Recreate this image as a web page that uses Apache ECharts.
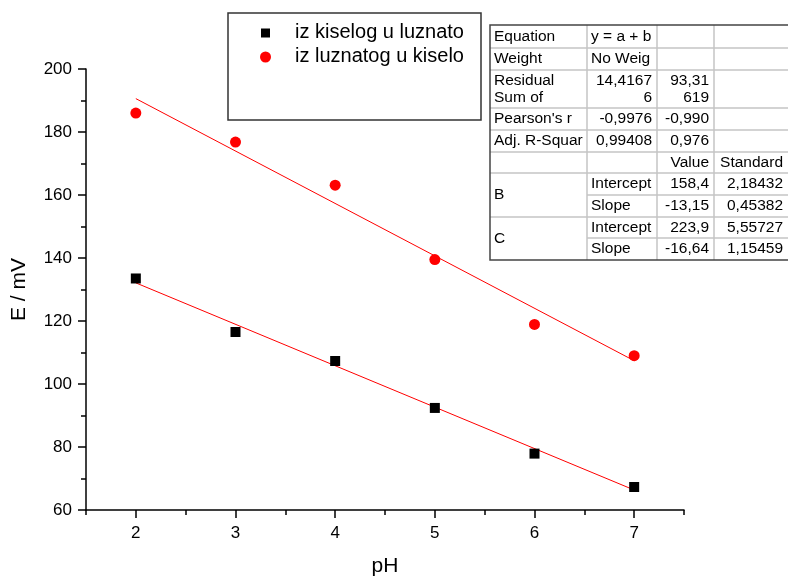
<!DOCTYPE html>
<html>
<head>
<meta charset="utf-8">
<script src="https://cdn.jsdelivr.net/npm/echarts@6/dist/echarts.min.js"></script>
<style>html,body{margin:0;padding:0;background:#fff}#c{width:788px;height:576px}</style>
</head>
<body>
<div id="c"></div>
<script>
// ---- data ----
var pH = [2, 3, 4, 5, 6, 7];
var seriesNames = ['iz kiselog u luznato', 'iz luznatog u kiselo'];
var eKiselo = [133.5, 116.5, 107.3, 92.4, 77.9, 67.3];
var eLuznato = [186.0, 176.8, 163.1, 139.5, 118.9, 109.0];
var fitX = [2, 7];
var fitB = [132.1, 66.35];
var fitC = [190.6, 107.4];
var xMajorTicks = [2, 3, 4, 5, 6, 7];
var tableRows = [
  ['Equation', 'y = a + b', '', ''],
  ['Weight', 'No Weig', '', ''],
  ['Residual\nSum of', '14,4167\n6', '93,31\n619', ''],
  ["Pearson's r", '-0,9976', '-0,990', ''],
  ['Adj. R-Squar', '0,99408', '0,976', ''],
  ['', '', 'Value', 'Standard'],
  ['B', 'Intercept', '158,4', '2,18432'],
  ['', 'Slope', '-13,15', '0,45382'],
  ['C', 'Intercept', '223,9', '5,55727'],
  ['', 'Slope', '-16,64', '1,15459']
];

function pairs(xs, ys) { return xs.map(function (x, i) { return [x, ys[i]]; }); }

var FONT = "'Liberation Sans', Arial, sans-serif";
var chart = echarts.init(document.getElementById('c'), null, {renderer: 'canvas'});

// ---- table graphic ----
var colX = [490, 587, 657, 714, 800];
var rowY = [25, 48, 70, 108, 130, 152, 173, 195, 217, 238, 260];
var g = [];
for (var r = 1; r < rowY.length - 1; r++) {
  var startX = (r === 7 || r === 9) ? colX[1] : colX[0];
  g.push({type: 'line', z: 50, shape: {x1: startX, y1: rowY[r], x2: 788, y2: rowY[r]}, style: {stroke: '#c4c4c4', lineWidth: 1.5}});
}
for (var c = 1; c < 4; c++) {
  g.push({type: 'line', z: 50, shape: {x1: colX[c], y1: rowY[0], x2: colX[c], y2: rowY[rowY.length - 1]}, style: {stroke: '#c4c4c4', lineWidth: 1.5}});
}
g.push({type: 'polyline', z: 51, shape: {points: [[788, rowY[0]], [colX[0], rowY[0]], [colX[0], rowY[10]], [788, rowY[10]]]}, style: {stroke: '#444', lineWidth: 1.5, fill: null}});
tableRows.forEach(function (row, ri) {
  var yTop = rowY[ri], yBot = rowY[ri + 1];
  row.forEach(function (txt, ci) {
    if (!txt) return;
    var isNum = /^[-\d,\n]+$/.test(txt) || ci >= 2;
    var yMid = (yTop + yBot) / 2;
    if (ci === 0 && (txt === 'B' || txt === 'C')) yMid = (yTop + rowY[ri + 2]) / 2;
    var x = isNum ? colX[ci + 1] - 5 : colX[ci] + 4;
    if (ci === 3) x = 783;
    g.push({type: 'text', z: 52, x: x, y: yMid,
      style: {text: txt, fill: '#000', font: '15.5px ' + FONT, align: isNum ? 'right' : 'left', verticalAlign: 'middle', lineHeight: 17}});
  });
});
// legend box
g.push({type: 'rect', z: 40, shape: {x: 228, y: 13, width: 253, height: 107}, style: {fill: '#fff', stroke: '#333', lineWidth: 1.5}});
g.push({type: 'rect', z: 41, shape: {x: 261, y: 28.5, width: 9, height: 9}, style: {fill: '#000'}});
g.push({type: 'circle', z: 41, shape: {cx: 265.5, cy: 57, r: 5.5}, style: {fill: '#ff0000'}});
g.push({type: 'text', z: 41, x: 295, y: 32, style: {text: seriesNames[0], fill: '#000', font: '20px ' + FONT, verticalAlign: 'middle'}});
g.push({type: 'text', z: 41, x: 295, y: 56, style: {text: seriesNames[1], fill: '#000', font: '20px ' + FONT, verticalAlign: 'middle'}});

var option = {
  backgroundColor: '#fff',
  animation: false,
  grid: {left: 86, top: 69, width: 598, height: 441, containLabel: false, outerBoundsMode: 'none'},
  xAxis: [{
    type: 'value', min: 1.5, max: 7.5, interval: 0.5,
    name: 'pH', nameLocation: 'middle', nameGap: 46,
    nameTextStyle: {fontSize: 21, fontFamily: FONT, color: '#000'},
    axisLine: {show: true, lineStyle: {color: '#000', width: 1.5}},
    axisTick: {show: true, length: 5, lineStyle: {color: '#000', width: 1.5}},
    axisLabel: {show: false},
    splitLine: {show: false}
  }, {
    type: 'value', min: 1.5, max: 7.5, position: 'bottom',
    axisLine: {show: false},
    axisTick: {show: true, length: 8, customValues: xMajorTicks, lineStyle: {color: '#000', width: 1.5}},
    axisLabel: {show: true, customValues: xMajorTicks, margin: 15, fontSize: 17, fontFamily: FONT, color: '#000'},
    splitLine: {show: false}
  }],
  yAxis: {
    type: 'value', min: 60, max: 200, interval: 20,
    name: 'E / mV', nameLocation: 'middle', nameGap: 56,
    nameTextStyle: {fontSize: 21, fontFamily: FONT, color: '#000'},
    axisLine: {show: true, lineStyle: {color: '#000', width: 1.5}},
    axisTick: {show: true, length: 8, lineStyle: {color: '#000', width: 1.5}},
    minorTick: {show: true, splitNumber: 2, length: 5, lineStyle: {color: '#000', width: 1.5}},
    axisLabel: {margin: 14, fontSize: 17, fontFamily: FONT, color: '#000'},
    splitLine: {show: false}
  },
  series: [
    {type: 'line', xAxisIndex: 0, data: pairs(fitX, fitB), symbol: 'none', lineStyle: {color: '#ff0000', width: 1}, z: 2},
    {type: 'line', xAxisIndex: 0, data: pairs(fitX, fitC), symbol: 'none', lineStyle: {color: '#ff0000', width: 1}, z: 2},
    {name: seriesNames[0], type: 'scatter', xAxisIndex: 0, data: pairs(pH, eKiselo), symbol: 'rect', symbolSize: 10, itemStyle: {color: '#000', opacity: 1}, z: 3},
    {name: seriesNames[1], type: 'scatter', xAxisIndex: 0, data: pairs(pH, eLuznato), symbol: 'circle', symbolSize: 11, itemStyle: {color: '#ff0000', opacity: 1}, z: 3}
  ],
  graphic: {elements: g}
};
chart.setOption(option);
</script>
</body>
</html>
